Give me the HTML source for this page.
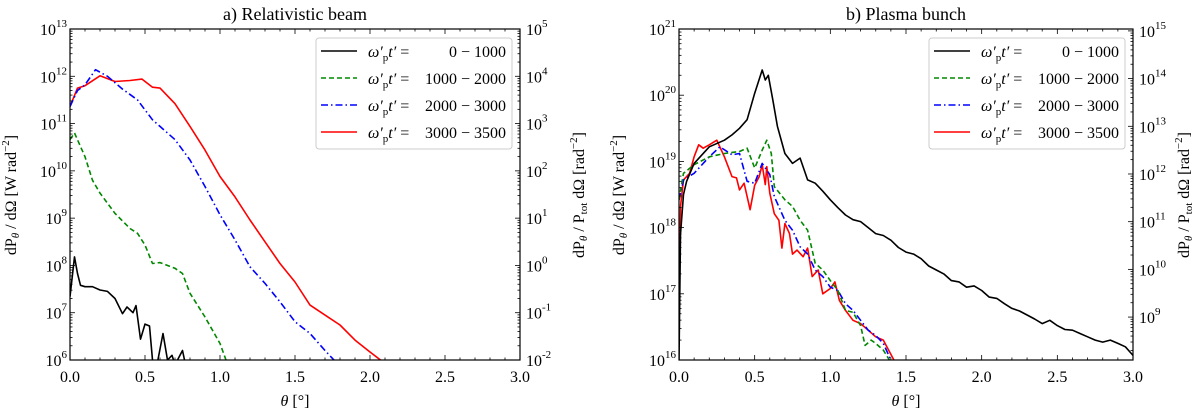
<!DOCTYPE html>
<html><head><meta charset="utf-8"><style>
body{margin:0;background:#fff;}
svg{display:block;font-family:"Liberation Serif",serif;}
text{font-family:"Liberation Serif",serif;}
</style></head><body>
<svg id="c" width="1200" height="414" viewBox="0 0 1200 414" xmlns="http://www.w3.org/2000/svg"></svg>
<script>
const NS="http://www.w3.org/2000/svg";
const svg=document.getElementById('c');
// ---- data (log10 values) ----
const aRedX=[0,0.05,0.1,0.2,0.3,0.4,0.48,0.55,0.6,0.7,0.8,0.9,1.0,1.1,1.2,1.3,1.4,1.5,1.6,1.7,1.8,1.9,2.0,2.07];
const aRedY=[11.36,11.75,11.8,12.01,11.89,11.91,11.94,11.77,11.75,11.42,10.94,10.44,9.88,9.45,8.96,8.5,8.04,7.65,7.16,6.95,6.74,6.42,6.17,6.0];
const aBlueX=[0,0.05,0.1,0.17,0.25,0.35,0.45,0.5,0.55,0.6,0.7,0.8,0.9,1.0,1.1,1.2,1.3,1.4,1.5,1.6,1.7,1.76];
const aBlueY=[11.36,11.7,11.82,12.14,12.0,11.73,11.5,11.29,11.08,10.94,10.66,10.23,9.67,9.07,8.54,7.97,7.62,7.23,6.81,6.56,6.2,6.0];
const aGreenX=[0,0.03,0.1,0.15,0.2,0.3,0.4,0.45,0.5,0.55,0.6,0.7,0.75,0.8,0.9,1.0,1.04];
const aGreenY=[10.66,10.8,10.3,9.8,9.53,9.1,8.78,8.68,8.43,8.04,8.06,7.94,7.83,7.41,6.91,6.35,6.0];
const aBlackX=[0,0.03,0.05,0.07,0.1,0.15,0.2,0.25,0.3,0.35,0.38,0.42,0.44,0.47,0.5,0.53,0.55,0.58,0.62,0.65,0.68,0.7,0.75,0.77];
const aBlackY=[7.34,8.18,7.83,7.58,7.55,7.55,7.48,7.45,7.3,6.98,7.12,7.0,7.15,6.44,6.76,6.72,6.0,5.9,6.56,6.0,6.1,5.9,6.2,5.9];
const bBlackX=[0,0.01,0.03,0.05,0.1,0.2,0.3,0.35,0.4,0.45,0.5,0.55,0.57,0.59,0.62,0.65,0.7,0.75,0.8,0.85,0.9,0.95,1.0,1.05,1.1,1.15,1.2,1.25,1.3,1.35,1.4,1.45,1.5,1.55,1.6,1.65,1.7,1.75,1.8,1.85,1.9,1.95,2.0,2.05,2.1,2.15,2.2,2.25,2.3,2.35,2.4,2.45,2.5,2.55,2.6,2.65,2.7,2.75,2.8,2.85,2.9,2.95,3.0];
const bBlackY=[16,17.9,18.5,18.7,18.97,19.22,19.32,19.4,19.5,19.63,20.03,20.38,20.23,20.3,19.93,19.53,19.12,18.97,19.05,18.72,18.67,18.55,18.42,18.3,18.19,18.12,18.09,18.0,17.91,17.88,17.81,17.7,17.63,17.6,17.53,17.42,17.36,17.3,17.2,17.18,17.1,17.12,17.05,16.95,16.93,16.85,16.78,16.74,16.68,16.62,16.55,16.6,16.52,16.46,16.45,16.4,16.35,16.3,16.27,16.3,16.25,16.2,16.07];
const bGreenX=[0,0.03,0.1,0.2,0.3,0.4,0.45,0.5,0.55,0.58,0.61,0.63,0.7,0.75,0.8,0.85,0.9,0.95,1.0,1.05,1.1,1.15,1.2,1.23,1.27,1.3,1.35,1.39];
const bGreenY=[18.42,18.82,18.95,19.07,19.12,19.15,19.2,18.9,19.17,19.32,19.12,18.62,18.42,18.32,18.11,17.96,17.46,17.36,17.2,17.05,16.75,16.72,16.52,16.22,16.3,16.25,16.15,16.0];
const bBlueX=[0,0.03,0.1,0.2,0.27,0.35,0.4,0.45,0.5,0.55,0.6,0.63,0.7,0.75,0.8,0.85,0.9,0.95,1.0,1.05,1.1,1.15,1.2,1.25,1.3,1.35,1.4];
const bBlueY=[18.42,18.72,18.82,19.07,19.22,19.1,19.12,18.7,18.67,18.97,18.8,18.47,18.11,17.96,17.71,17.6,17.36,17.26,17.1,17.05,16.85,16.75,16.6,16.45,16.37,16.25,16.0];
const bRedX=[0,0.01,0.03,0.07,0.1,0.13,0.16,0.2,0.25,0.3,0.35,0.38,0.4,0.43,0.47,0.5,0.53,0.55,0.57,0.58,0.6,0.63,0.66,0.68,0.7,0.73,0.75,0.78,0.82,0.85,0.88,0.92,0.95,1.0,1.03,1.06,1.1,1.15,1.2,1.25,1.3,1.35,1.42];
const bRedY=[16.4,18.32,18.72,18.82,19.07,19.25,19.2,19.25,19.32,19.07,18.77,18.75,18.57,18.67,18.27,18.64,18.77,18.95,18.65,18.92,18.52,18.21,18.11,17.69,18.06,17.91,17.6,17.66,17.56,17.69,17.26,17.36,17.0,17.08,17.18,16.9,16.75,16.6,16.55,16.45,16.35,16.3,16.0];
const xTicks=[0,0.5,1.0,1.5,2.0,2.5,3.0];
const xTickLabels=["0.0","0.5","1.0","1.5","2.0","2.5","3.0"];
const legendVals=["0 \u2212 1000","1000 \u2212 2000","2000 \u2212 3000","3000 \u2212 3500"];

function el(tag,attrs,parent){const e=document.createElementNS(NS,tag);for(const k in attrs)e.setAttribute(k,attrs[k]);(parent||svg).appendChild(e);return e;}

function panel(o){
  const g=el('g',{});
  
  
  const X=v=>o.x0+(v/3)*(o.x1-o.x0);
  const Y=v=>o.y1-(v-o.ymin)/(o.ymax-o.ymin)*(o.y1-o.y0);
  const cid='clip'+o.name;
  const cp=el('clipPath',{id:cid},g);el('rect',{x:o.x0,y:o.y0,width:o.x1-o.x0,height:o.y1-o.y0},cp);
  o.series.forEach(s=>{
    let d='';s.x.forEach((v,i)=>{d+=(i?'L':'M')+X(v).toFixed(1)+','+Y(s.y[i]).toFixed(1);});
    const p=el('path',{d:d,fill:'none',stroke:s.c,'stroke-width':1.6,'stroke-dasharray':s.dash||'none','clip-path':'url(#'+cid+')','stroke-linejoin':'round'},g);
    
    
  });
  el('rect',{x:o.x0,y:o.y0,width:o.x1-o.x0,height:o.y1-o.y0,fill:'none',stroke:'#000','stroke-width':1.2},g);
  for(let i=0;i<=30;i++){const v=i/10,xx=X(v),maj=i%5==0,L=maj?5:2.5;
    el('line',{x1:xx,x2:xx,y1:o.y1,y2:o.y1-L,stroke:'#000','stroke-width':0.8},g);
    el('line',{x1:xx,x2:xx,y1:o.y0,y2:o.y0+L,stroke:'#000','stroke-width':0.8},g);}
  xTicks.forEach((v,i)=>{const t=el('text',{x:X(v),y:o.y1+22,'font-size':16,'text-anchor':'middle'},g);t.textContent=xTickLabels[i];
    });
  function logTicks(ymin,ymax,Yf,xAx,dir,labelX,anchor){
    for(let e=Math.floor(ymin);e<=Math.ceil(ymax);e++){
      for(let m=1;m<10;m++){const lv=e+Math.log10(m);if(lv<ymin-1e-6||lv>ymax+1e-6)continue;
        const yy=Yf(lv),L=m==1?5:2.5;el('line',{x1:xAx,x2:xAx+dir*L,y1:yy,y2:yy,stroke:'#000','stroke-width':0.8},g);
        if(m==1){const t=el('text',{x:labelX,y:yy+6,'font-size':16,'text-anchor':anchor},g);
          t.innerHTML='10<tspan dy="-8" font-size="11">'+e+'</tspan>';
          }}}
  }
  logTicks(o.ymin,o.ymax,Y,o.x0,1,o.x0-3,'end');
  const Y2=v=>o.y1-(v-o.rmin)/(o.rmax-o.rmin)*(o.y1-o.y0);
  logTicks(o.rmin,o.rmax,Y2,o.x1,-1,o.x1+6,'start');
  let t=el('text',{x:(o.x0+o.x1)/2,y:20,'font-size':18,'text-anchor':'middle'},g);t.textContent=o.title;
  
  t=el('text',{x:(o.x0+o.x1)/2,y:406,'font-size':16,'text-anchor':'middle'},g);t.innerHTML='<tspan font-style="italic">θ</tspan> [°]';
  
  t=el('text',{x:0,y:0,'font-size':16,'text-anchor':'middle',transform:`translate(${o.ylx},195) rotate(-90)`},g);
  t.innerHTML='dP<tspan dy="3" font-size="11" font-style="italic">θ</tspan><tspan dy="-3"> / dΩ [W rad</tspan><tspan dy="-7" font-size="11">−2</tspan><tspan dy="7">]</tspan>';
  
  t=el('text',{x:0,y:0,'font-size':16,'text-anchor':'middle',transform:`translate(${o.rlx},195) rotate(-90)`},g);
  t.innerHTML='dP<tspan dy="3" font-size="11" font-style="italic">θ</tspan><tspan dy="-3"> / P</tspan><tspan dy="3" font-size="11">tot</tspan><tspan dy="-3"> dΩ [rad</tspan><tspan dy="-7" font-size="11">−2</tspan><tspan dy="7">]</tspan>';
  
  const lg=el('g',{},g);
  
  
  el('rect',{x:o.lx,y:38,width:o.lw,height:111,rx:3,fill:'#fff',stroke:'#ccc','stroke-width':1},lg);
  o.series.slice().reverse().forEach((s,i)=>{
    const yy=51+27*i;
    el('line',{x1:o.lx+5,x2:o.lx+41,y1:yy,y2:yy,stroke:s.c,'stroke-width':1.6,'stroke-dasharray':s.dash||'none'},lg);
    const tt=el('text',{x:o.lx+52,y:yy+6,'font-size':16},lg);
    tt.innerHTML='<tspan font-style="italic">ω′</tspan><tspan dy="4" font-size="11">p</tspan><tspan dy="-4" font-style="italic">t′</tspan> =';
    
    const tv=el('text',{x:o.lx+o.lw-6,y:yy+6,'font-size':16,'text-anchor':'end'},lg);tv.textContent=legendVals[i];
    
  });
}
panel({name:'panel-a',x0:70,x1:520,y0:29,y1:360,ymin:6,ymax:13,rmin:-2,rmax:5,title:'a) Relativistic beam',ylx:16,rlx:584,lx:316,lw:196,
 series:[{n:'series-3000-3500',x:aRedX,y:aRedY,c:'#f00'},{n:'series-2000-3000',x:aBlueX,y:aBlueY,c:'#00f',dash:'7,3,1.5,3'},{n:'series-1000-2000',x:aGreenX,y:aGreenY,c:'#080',dash:'5,3'},{n:'series-0-1000',x:aBlackX,y:aBlackY,c:'#000'}]});
panel({name:'panel-b',x0:679,x1:1133,y0:29,y1:360,ymin:16,ymax:21,rmin:8.1,rmax:15.04,title:'b) Plasma bunch',ylx:624,rlx:1189,lx:929,lw:196,
 series:[{n:'series-3000-3500',x:bRedX,y:bRedY,c:'#f00'},{n:'series-2000-3000',x:bBlueX,y:bBlueY,c:'#00f',dash:'7,3,1.5,3'},{n:'series-1000-2000',x:bGreenX,y:bGreenY,c:'#080',dash:'5,3'},{n:'series-0-1000',x:bBlackX,y:bBlackY,c:'#000'}]});
</script>
</body></html>
